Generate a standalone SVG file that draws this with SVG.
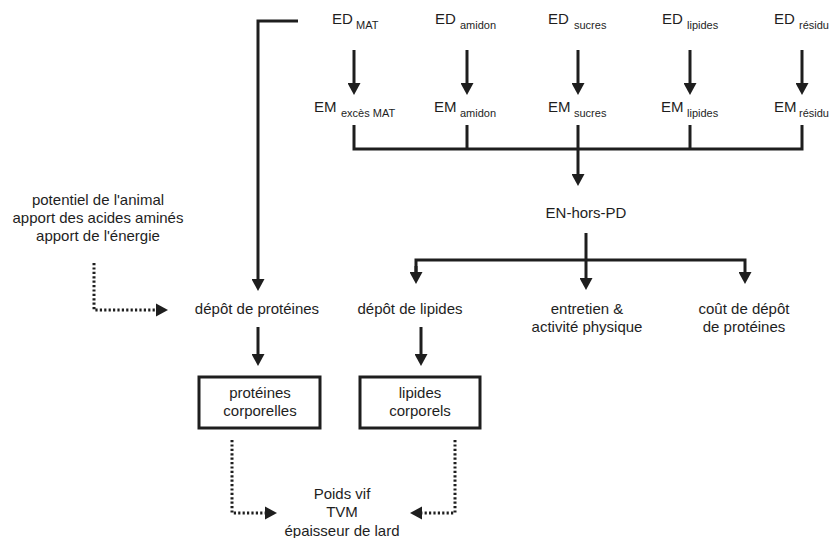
<svg xmlns="http://www.w3.org/2000/svg" width="829" height="538" viewBox="0 0 829 538">
<style>
text{font-family:"Liberation Sans",Arial,sans-serif;font-size:15px;fill:#1e1e1e}
.sub{font-size:11px}
.m{text-anchor:middle}
.ln{fill:none;stroke:#1e1e1e;stroke-width:3}
.dot{fill:none;stroke:#1e1e1e;stroke-width:3;stroke-dasharray:2.2 2.2}
</style>
<defs>
<marker id="ah" markerUnits="userSpaceOnUse" markerWidth="13" markerHeight="13" refX="0" refY="6.5" orient="auto" viewBox="0 0 13 13">
<path d="M0,0 L12,6.5 L0,13 z" fill="#1e1e1e"/>
</marker>
</defs>
<rect width="829" height="538" fill="#fff"/>
<g id="connectors">
<polyline class="ln" points="298,21 258,21 258,279" marker-end="url(#ah)"/>
<line class="ln" x1="354" y1="50" x2="354" y2="83" marker-end="url(#ah)"/>
<line class="ln" x1="467" y1="50" x2="467" y2="83" marker-end="url(#ah)"/>
<line class="ln" x1="578" y1="50" x2="578" y2="83" marker-end="url(#ah)"/>
<line class="ln" x1="690" y1="50" x2="690" y2="83" marker-end="url(#ah)"/>
<line class="ln" x1="802" y1="50" x2="802" y2="83" marker-end="url(#ah)"/>
<polyline class="ln" points="354,125 354,149 802,149 802,125"/>
<line class="ln" x1="467" y1="125" x2="467" y2="149"/>
<line class="ln" x1="690" y1="125" x2="690" y2="149"/>
<line class="ln" x1="578" y1="125" x2="578" y2="174" marker-end="url(#ah)"/>
<line class="ln" x1="586" y1="233" x2="586" y2="278" marker-end="url(#ah)"/>
<polyline class="ln" points="416,272 416,260 745,260 745,272" marker-end="url(#ah)"/>
<line class="ln" x1="416" y1="266" x2="416" y2="272" marker-end="url(#ah)"/>
<line class="ln" x1="258" y1="327" x2="258" y2="354" marker-end="url(#ah)"/>
<line class="ln" x1="421" y1="327" x2="421" y2="354" marker-end="url(#ah)"/>
<polyline class="dot" points="94,263 94,310 156,310"/>
<path d="M156,303.5 L168,310 L156,316.5 z" fill="#1e1e1e"/>
<polyline class="dot" points="232,440 232,513 265,513"/>
<path d="M265,506.5 L277,513 L265,519.5 z" fill="#1e1e1e"/>
<polyline class="dot" points="455,440 455,513 422,513"/>
<path d="M422,506.5 L410,513 L422,519.5 z" fill="#1e1e1e"/>
</g>
<g id="ed-mat"><text x="332" y="24">ED<tspan class="sub" x="356" y="29">MAT</tspan></text></g>
<g id="ed-amidon"><text x="435" y="24">ED<tspan class="sub" x="460" y="29">amidon</tspan></text></g>
<g id="ed-sucres"><text x="548" y="24">ED<tspan class="sub" x="574" y="29">sucres</tspan></text></g>
<g id="ed-lipides"><text x="662" y="24">ED<tspan class="sub" x="687" y="29">lipides</tspan></text></g>
<g id="ed-residu"><text x="774" y="24">ED<tspan class="sub" x="799" y="29">résidu</tspan></text></g>
<g id="em-mat"><text x="314" y="112">EM<tspan class="sub" x="341" y="117">excès MAT</tspan></text></g>
<g id="em-amidon"><text x="434" y="112">EM<tspan class="sub" x="460" y="117">amidon</tspan></text></g>
<g id="em-sucres"><text x="548" y="112">EM<tspan class="sub" x="574" y="117">sucres</tspan></text></g>
<g id="em-lipides"><text x="661" y="112">EM<tspan class="sub" x="687" y="117">lipides</tspan></text></g>
<g id="em-residu"><text x="774" y="112">EM<tspan class="sub" x="799" y="117">résidu</tspan></text></g>
<g id="en-hors-pd"><text class="m" x="586" y="218">EN-hors-PD</text></g>
<g id="facteurs"><text class="m" x="98" y="205">potentiel de l'animal</text><text class="m" x="98" y="223">apport des acides aminés</text><text class="m" x="98" y="241">apport de l'énergie</text></g>
<g id="depot-proteines"><text class="m" x="257" y="314">dépôt de protéines</text></g>
<g id="depot-lipides"><text class="m" x="410" y="314">dépôt de lipides</text></g>
<g id="entretien"><text class="m" x="587" y="314">entretien &amp;</text><text class="m" x="587" y="332">activité physique</text></g>
<g id="cout-depot"><text class="m" x="744" y="314">coût de dépôt</text><text class="m" x="744" y="332">de protéines</text></g>
<g id="proteines-corporelles"><rect class="ln" x="199" y="377" width="121" height="51"/><text class="m" x="260" y="398">protéines</text><text class="m" x="260" y="416">corporelles</text></g>
<g id="lipides-corporels"><rect class="ln" x="360" y="377" width="120" height="51"/><text class="m" x="420" y="398">lipides</text><text class="m" x="420" y="416">corporels</text></g>
<g id="resultats"><text class="m" x="342" y="499">Poids vif</text><text class="m" x="342" y="517">TVM</text><text class="m" x="342" y="536">épaisseur de lard</text></g>
</svg>
